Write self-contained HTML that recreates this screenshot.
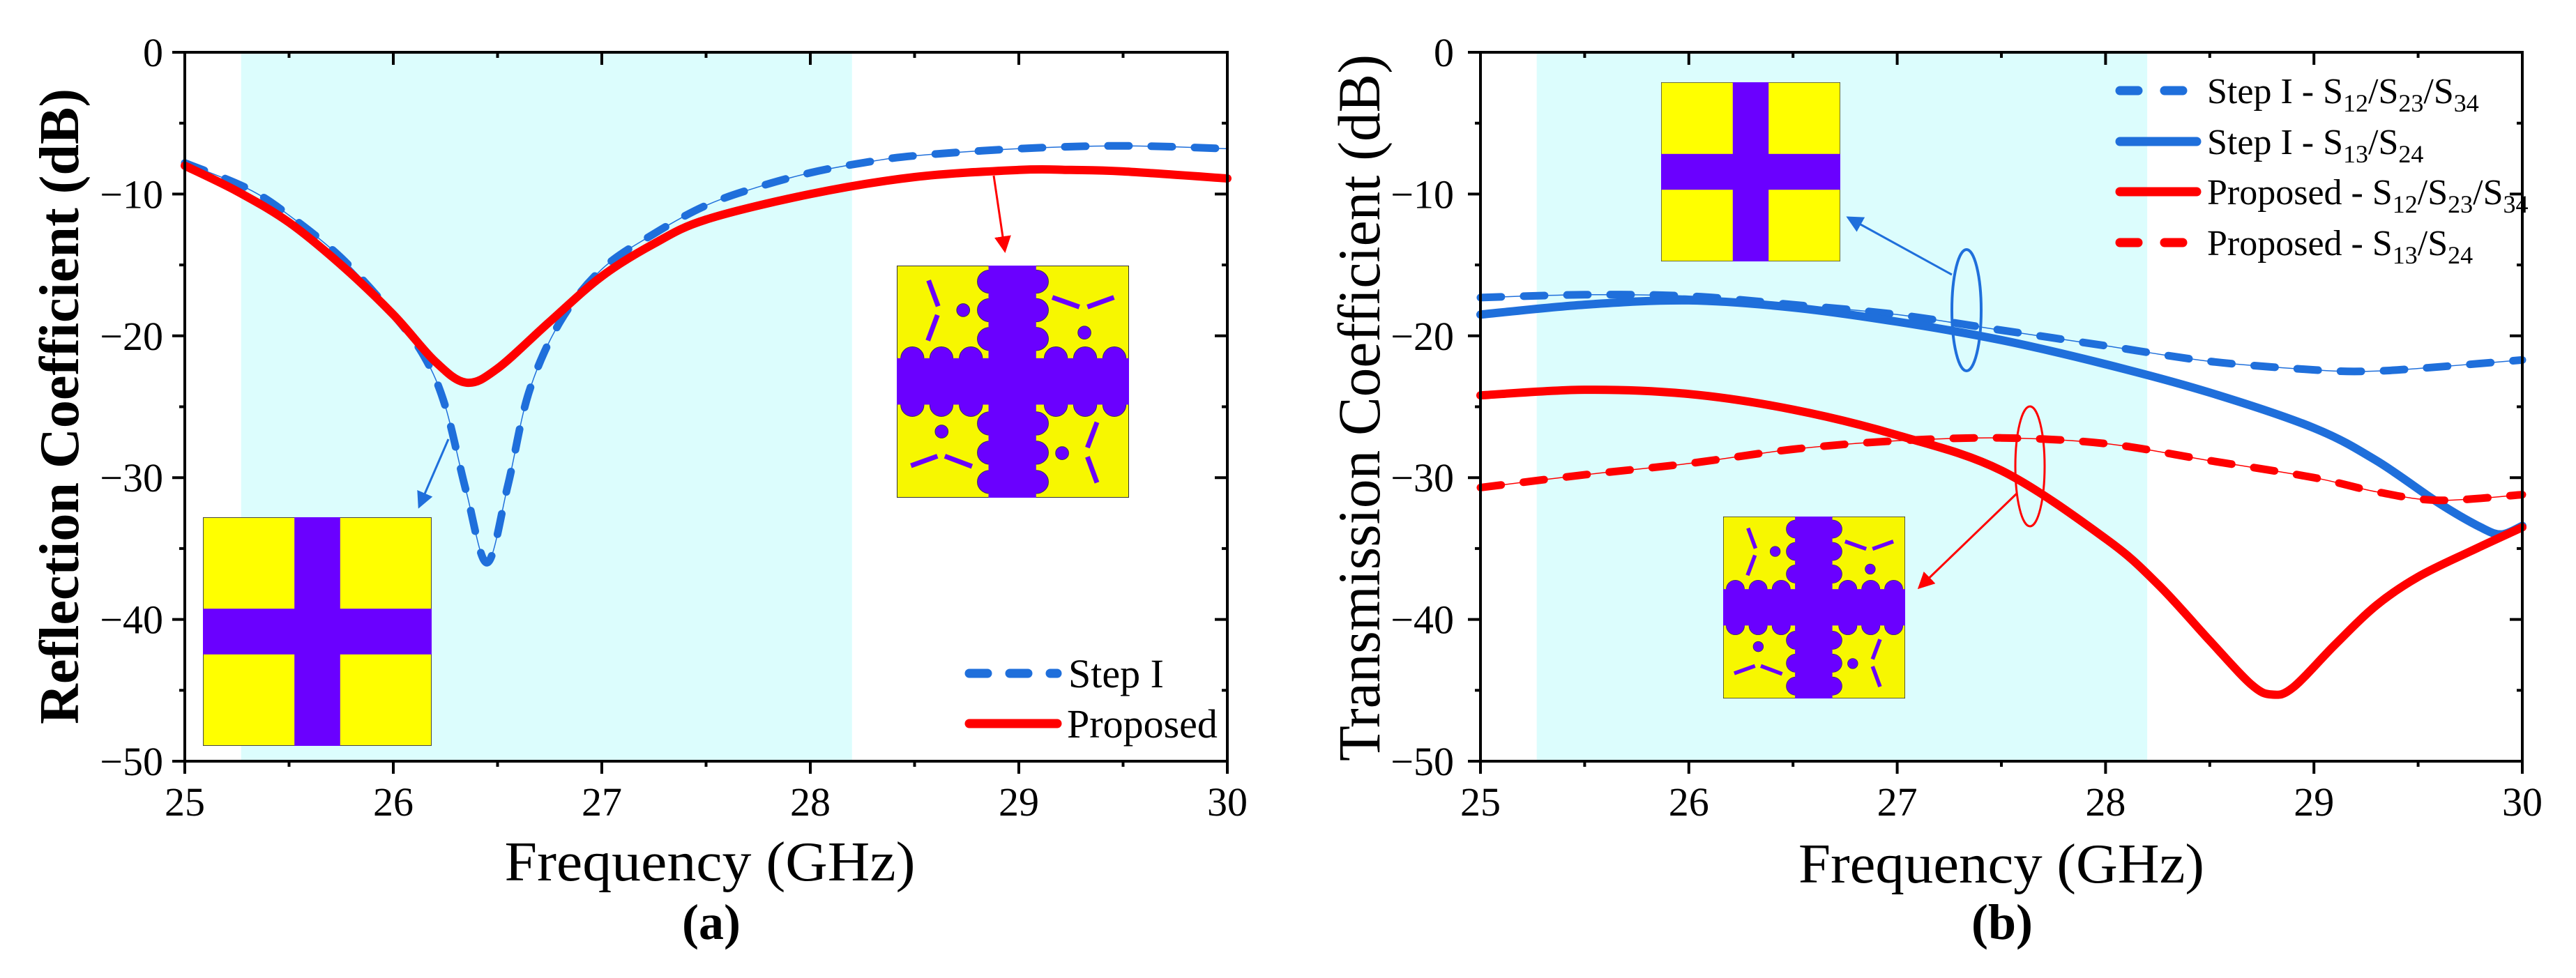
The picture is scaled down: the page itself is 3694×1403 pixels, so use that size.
<!DOCTYPE html>
<html><head><meta charset="utf-8"><style>
html,body{margin:0;padding:0;background:#fff;}
svg{display:block;font-family:"Liberation Serif",serif;}
</style></head><body>
<svg id="fig" width="3694" height="1403" viewBox="0 0 3694 1403" xmlns="http://www.w3.org/2000/svg">
<defs>
<symbol id="inset-step1" viewBox="0 0 100 100" preserveAspectRatio="none">
<rect x="0" y="0" width="100" height="100" fill="#ffff00" stroke="#444" stroke-width="0.6"/>
<rect x="40" y="0" width="20" height="100" fill="#6a00ff"/>
<rect x="0" y="40" width="100" height="20" fill="#6a00ff"/>
</symbol>
<symbol id="inset-proposed" viewBox="0 0 100 100" preserveAspectRatio="none">
<rect x="0" y="0" width="100" height="100" fill="#f7f700" stroke="#333" stroke-width="0.6"/>
<g fill="#6a00ff" stroke="#3a2a60" stroke-width="0.3">
<ellipse cx="40" cy="6.9" rx="5.3" ry="5"/><ellipse cx="60" cy="6.9" rx="5.3" ry="5"/>
<ellipse cx="40" cy="19.2" rx="5.3" ry="5"/><ellipse cx="60" cy="19.2" rx="5.3" ry="5"/>
<ellipse cx="40" cy="31.6" rx="5.3" ry="5"/><ellipse cx="60" cy="31.6" rx="5.3" ry="5"/>
<ellipse cx="40" cy="68" rx="5.3" ry="5"/><ellipse cx="60" cy="68" rx="5.3" ry="5"/>
<ellipse cx="40" cy="80.6" rx="5.3" ry="5"/><ellipse cx="60" cy="80.6" rx="5.3" ry="5"/>
<ellipse cx="40" cy="93.2" rx="5.3" ry="5"/><ellipse cx="60" cy="93.2" rx="5.3" ry="5"/>
<ellipse cx="6.7" cy="40" rx="5" ry="5"/><ellipse cx="19.2" cy="40" rx="5" ry="5"/><ellipse cx="31.9" cy="40" rx="5" ry="5"/>
<ellipse cx="68.5" cy="40" rx="5" ry="5"/><ellipse cx="81.1" cy="40" rx="5" ry="5"/><ellipse cx="93.7" cy="40" rx="5" ry="5"/>
<ellipse cx="6.7" cy="60" rx="5" ry="5"/><ellipse cx="19.2" cy="60" rx="5" ry="5"/><ellipse cx="31.9" cy="60" rx="5" ry="5"/>
<ellipse cx="68.5" cy="60" rx="5" ry="5"/><ellipse cx="81.1" cy="60" rx="5" ry="5"/><ellipse cx="93.7" cy="60" rx="5" ry="5"/>
<circle cx="28.6" cy="19.2" r="2.8"/><circle cx="80.8" cy="28.9" r="2.8"/>
<circle cx="19.3" cy="71.5" r="2.8"/><circle cx="71.2" cy="80.8" r="2.8"/>
</g>
<rect x="39.5" y="0" width="20.5" height="100" fill="#6a00ff"/>
<rect x="0" y="39.9" width="100" height="20" fill="#6a00ff"/>
<g stroke="#6a00ff" stroke-width="2.1">
<line x1="13.7" y1="6.4" x2="17.8" y2="17.5"/><line x1="17.5" y1="21.3" x2="13.4" y2="32.3"/>
<line x1="67" y1="13.7" x2="78.6" y2="17.8"/><line x1="82.1" y1="17.8" x2="93.5" y2="13.7"/>
<line x1="6.1" y1="86.2" x2="17.5" y2="82.1"/><line x1="20.7" y1="82.1" x2="32.4" y2="86.5"/>
<line x1="86.2" y1="67.5" x2="82.1" y2="78.4"/><line x1="82.1" y1="82.4" x2="86.2" y2="93.5"/>
</g>
</symbol>
<marker id="arrBlue" markerWidth="8" markerHeight="8" refX="7" refY="4" orient="auto" markerUnits="strokeWidth"><path d="M0,0 L8,4 L0,8 z" fill="#1f6fdb"/></marker>
<marker id="arrRed" markerWidth="8" markerHeight="8" refX="7" refY="4" orient="auto" markerUnits="strokeWidth"><path d="M0,0 L8,4 L0,8 z" fill="#ff0000"/></marker>
</defs>
<g id="panelA"></g>
<g id="panelB"></g>
</svg>
<script>
// ---- Panel (a) data ----
const aFreqStep = [25, 25.3, 25.5, 25.75, 26, 26.15, 26.25, 26.35, 26.45, 26.55, 26.65, 26.8, 27, 27.25, 27.5, 27.75, 28, 28.25, 28.5, 29, 29.5, 30];
const aStepI   = [-7.8, -9.6, -11.5, -14.5, -18.5, -21.5, -25, -31, -36, -30.5, -24, -19, -15.3, -12.8, -10.8, -9.5, -8.5, -7.8, -7.3, -6.8, -6.6, -6.8];
const aFreqProp = [25, 25.25, 25.5, 25.75, 26, 26.2, 26.35, 26.5, 26.75, 27, 27.25, 27.5, 28, 28.5, 29, 29.25, 29.5, 30];
const aProposed = [-8, -9.8, -12, -15, -18.5, -21.8, -23.3, -22.3, -19, -15.8, -13.5, -11.8, -10, -8.8, -8.3, -8.3, -8.4, -8.9];
// ---- Panel (b) data ----
const bFreqS12 = [25, 25.5, 26, 26.5, 27, 27.5, 28, 28.5, 29, 29.25, 29.5, 30];
const bStepS12 = [-17.3, -17.1, -17.2, -17.8, -18.5, -19.6, -20.7, -21.8, -22.4, -22.5, -22.3, -21.7];
const bFreqS13 = [25, 25.5, 26, 26.5, 27, 27.5, 28, 28.5, 29, 29.3, 29.6, 29.8, 29.9, 30];
const bStepS13 = [-18.5, -17.8, -17.5, -18, -19, -20.3, -22, -24, -26.5, -28.8, -31.8, -33.5, -34, -33.4];
const bFreqPS12 = [25, 25.5, 26, 26.5, 27, 27.5, 28, 28.25, 28.5, 28.7, 28.8, 28.9, 29.1, 29.3, 29.5, 29.75, 30];
const bPropS12 = [-24.2, -23.8, -24.1, -25.2, -27, -29.5, -34.3, -37.5, -41.5, -44.6, -45.3, -44.8, -41.8, -39, -37, -35.2, -33.5];
const bFreqPS13 = [25, 25.5, 26, 26.5, 27, 27.5, 28, 28.5, 29, 29.3, 29.6, 30];
const bPropS13 = [-30.7, -29.8, -29, -28, -27.4, -27.2, -27.6, -28.8, -30, -31, -31.6, -31.2];
const xTicks = [25, 26, 27, 28, 29, 30];
const yTicks = [0, -10, -20, -30, -40, -50];
const yTickLabels = ["0", "\u221210", "\u221220", "\u221230", "\u221240", "\u221250"];
const bandStart = 25.27, bandEnd = 28.2;

const NS = "http://www.w3.org/2000/svg";
function mk(tag, attrs, parent) {
  const e = document.createElementNS(NS, tag);
  for (const k in attrs) e.setAttribute(k, attrs[k]);
  parent.appendChild(e);
  return e;
}
function makeAxes(L, R, T, B) {
  const sx = f => L + (f - 25) / 5 * (R - L);
  const sy = v => T + (0 - v) / 50 * (B - T);
  return {sx, sy};
}
function smoothPath(xs, ys, ax) {
  const p = xs.map((x, i) => [ax.sx(x), ax.sy(ys[i])]);
  let d = "M" + p[0][0].toFixed(1) + "," + p[0][1].toFixed(1);
  for (let i = 0; i < p.length - 1; i++) {
    const p0 = p[Math.max(0, i - 1)], p1 = p[i], p2 = p[i + 1], p3 = p[Math.min(p.length - 1, i + 2)];
    const c1 = [p1[0] + (p2[0] - p0[0]) / 6, p1[1] + (p2[1] - p0[1]) / 6];
    const c2 = [p2[0] - (p3[0] - p1[0]) / 6, p2[1] - (p3[1] - p1[1]) / 6];
    d += " C" + c1[0].toFixed(1) + "," + c1[1].toFixed(1) + " " + c2[0].toFixed(1) + "," + c2[1].toFixed(1) + " " + p2[0].toFixed(1) + "," + p2[1].toFixed(1);
  }
  return d;
}
function drawFrame(g, ax, L, R, T, B) {
  const band = mk("rect", {x: ax.sx(bandStart), y: T, width: ax.sx(bandEnd) - ax.sx(bandStart), height: B - T, fill: "#dcfdfd"}, g);
  
  
}
function drawAxes(g, ax, L, R, T, B, tickRight) {
  const axg = mk("g", {stroke: "#000", "stroke-width": 4, fill: "none"}, g);
  
  
  mk("rect", {x: L, y: T, width: R - L, height: B - T}, axg);
  for (let f = 25; f <= 30.001; f += 0.5) {
    const major = Math.abs(f - Math.round(f)) < 1e-6;
    const x = ax.sx(f);
    mk("line", {x1: x, y1: B, x2: x, y2: B + (major ? 18 : 8)}, axg);
    mk("line", {x1: x, y1: T, x2: x, y2: T + (major ? 18 : 8)}, axg);
  }
  for (let v = 0; v >= -50; v -= 5) {
    const major = v % 10 === 0;
    const y = ax.sy(v);
    mk("line", {x1: L, y1: y, x2: L - (major ? 18 : 8), y2: y}, axg);
    mk("line", {x1: R, y1: y, x2: R - (major ? 18 : 8), y2: y}, axg);
  }
  xTicks.forEach(f => {
    const t = mk("text", {x: ax.sx(f), y: B + 78, "text-anchor": "middle", "font-size": 58, fill: "#000"}, g);
    t.textContent = f;
    
    
  });
  yTicks.forEach((v, i) => {
    const t = mk("text", {x: tickRight, y: ax.sy(v) + 20, "text-anchor": "end", "font-size": 58, fill: "#000"}, g);
    t.textContent = yTickLabels[i];
    
    
  });
}
function series(g, xs, ys, ax, color, dashed, name, width) {
  if (dashed) {
    const thin = mk("path", {d: smoothPath(xs, ys, ax), fill: "none", stroke: color, "stroke-width": 1.5}, g);
    
    
  }
  const p = mk("path", {d: smoothPath(xs, ys, ax), fill: "none", stroke: color, "stroke-width": width, "stroke-linecap": "round", "stroke-linejoin": "round"}, g);
  if (dashed) p.setAttribute("stroke-dasharray", "30 32");
  
  
}
const BLUE = "#1f6fdb", RED = "#ff0000";

// ---------- Panel A ----------
(function () {
  const g = document.getElementById("panelA");
  const L = 265, R = 1760, T = 75, B = 1092;
  const ax = makeAxes(L, R, T, B);
  drawFrame(g, ax, L, R, T, B);
  series(g, aFreqStep, aStepI, ax, BLUE, true, "step-i-line", 11);
  series(g, aFreqProp, aProposed, ax, RED, false, "proposed-line", 12);
  const i1 = mk("use", {href: "#inset-step1", x: 291, y: 742, width: 328, height: 328}, g);
  
  
  const i2 = mk("use", {href: "#inset-proposed", x: 1286, y: 381, width: 333, height: 333}, g);
  
  
  const a1 = mk("line", {x1: 643, y1: 630, x2: 601, y2: 727, stroke: BLUE, "stroke-width": 3, "marker-end": "url(#arrBlue)"}, g);
  
  
  const a2 = mk("line", {x1: 1425, y1: 252, x2: 1441, y2: 360, stroke: RED, "stroke-width": 3, "marker-end": "url(#arrRed)"}, g);
  
  
  drawAxes(g, ax, L, R, T, B, 234);
  const lg = mk("g", {}, g);
  
  
  mk("line", {x1: 1390, y1: 966, x2: 1516, y2: 966, stroke: BLUE, "stroke-width": 13, "stroke-linecap": "round", "stroke-dasharray": "26 32"}, lg);
  mk("line", {x1: 1390, y1: 1038, x2: 1516, y2: 1038, stroke: RED, "stroke-width": 13, "stroke-linecap": "round"}, lg);
  const t1 = mk("text", {x: 1532, y: 986, "font-size": 58}, lg); t1.textContent = "Step I";
  
  
  const t2 = mk("text", {x: 1530, y: 1058, "font-size": 58}, lg); t2.textContent = "Proposed";
  
  
  const xt = mk("text", {x: 1018, y: 1263, "text-anchor": "middle", "font-size": 80, textLength: 589, lengthAdjust: "spacingAndGlyphs"}, g);
  xt.textContent = "Frequency (GHz)";
  
  
  const yt = mk("text", {x: 0, y: 0, "text-anchor": "middle", "font-size": 80, "font-weight": "bold", textLength: 912, lengthAdjust: "spacingAndGlyphs", transform: "translate(112,583) rotate(-90)"}, g);
  yt.textContent = "Reflection Coefficient (dB)";
  
  
  const cap = mk("text", {x: 1020, y: 1347, "text-anchor": "middle", "font-size": 72, "font-weight": "bold"}, g);
  cap.textContent = "(a)";
  
  
})();

// ---------- Panel B ----------
(function () {
  const g = document.getElementById("panelB");
  const L = 2123, R = 3617, T = 75, B = 1092;
  const ax = makeAxes(L, R, T, B);
  drawFrame(g, ax, L, R, T, B);
  series(g, bFreqS12, bStepS12, ax, BLUE, true, "step-i-s12-line", 11);
  series(g, bFreqS13, bStepS13, ax, BLUE, false, "step-i-s13-line", 12);
  series(g, bFreqPS12, bPropS12, ax, RED, false, "proposed-s12-line", 12);
  series(g, bFreqPS13, bPropS13, ax, RED, true, "proposed-s13-line", 11);
  const i1 = mk("use", {href: "#inset-step1", x: 2382, y: 118, width: 257, height: 257}, g);
  
  
  const i2 = mk("use", {href: "#inset-proposed", x: 2471, y: 741, width: 261, height: 261}, g);
  
  
  const e1 = mk("ellipse", {cx: 2820, cy: 445, rx: 21, ry: 87, fill: "none", stroke: BLUE, "stroke-width": 4}, g);
  
  
  const a1 = mk("line", {x1: 2799, y1: 394, x2: 2650, y2: 312, stroke: BLUE, "stroke-width": 3, "marker-end": "url(#arrBlue)"}, g);
  
  
  const e2 = mk("ellipse", {cx: 2911, cy: 669, rx: 21, ry: 86, fill: "none", stroke: RED, "stroke-width": 3}, g);
  
  
  const a2 = mk("line", {x1: 2892, y1: 708, x2: 2752, y2: 843, stroke: RED, "stroke-width": 3, "marker-end": "url(#arrRed)"}, g);
  
  
  drawAxes(g, ax, L, R, T, B, 2085);
  const lg = mk("g", {}, g);
  
  
  mk("line", {x1: 3040, y1: 130, x2: 3150, y2: 130, stroke: BLUE, "stroke-width": 13, "stroke-linecap": "round", "stroke-dasharray": "26 38"}, lg);
  mk("line", {x1: 3040, y1: 203, x2: 3150, y2: 203, stroke: BLUE, "stroke-width": 13, "stroke-linecap": "round"}, lg);
  mk("line", {x1: 3040, y1: 275, x2: 3150, y2: 275, stroke: RED, "stroke-width": 13, "stroke-linecap": "round"}, lg);
  mk("line", {x1: 3040, y1: 348, x2: 3150, y2: 348, stroke: RED, "stroke-width": 13, "stroke-linecap": "round", "stroke-dasharray": "26 38"}, lg);
  const entries = [
    ["Step I - S", [["12", "/S"], ["23", "/S"], ["34", ""]], 148, "legend-entry-step-i-s12"],
    ["Step I - S", [["13", "/S"], ["24", ""]], 221, "legend-entry-step-i-s13"],
    ["Proposed - S", [["12", "/S"], ["23", "/S"], ["34", ""]], 293, "legend-entry-proposed-s12"],
    ["Proposed - S", [["13", "/S"], ["24", ""]], 366, "legend-entry-proposed-s13"]
  ];
  entries.forEach(en => {
    const t = mk("text", {x: 3165, y: en[2], "font-size": 52}, lg);
    
    
    const s0 = mk("tspan", {}, t); s0.textContent = en[0];
    en[1].forEach(pr => {
      const sb = mk("tspan", {"font-size": 36, dy: 12}, t); sb.textContent = pr[0];
      if (pr[1]) { const s = mk("tspan", {dy: -12}, t); s.textContent = pr[1]; }
    });
  });
  const xt = mk("text", {x: 2870, y: 1266, "text-anchor": "middle", "font-size": 80, textLength: 582, lengthAdjust: "spacingAndGlyphs"}, g);
  xt.textContent = "Frequency (GHz)";
  
  
  const yt = mk("text", {x: 0, y: 0, "text-anchor": "middle", "font-size": 86, textLength: 1014, lengthAdjust: "spacingAndGlyphs", transform: "translate(1978,585) rotate(-90)"}, g);
  yt.textContent = "Transmission Coefficient (dB)";
  
  
  const cap = mk("text", {x: 2871, y: 1347, "text-anchor": "middle", "font-size": 72, "font-weight": "bold"}, g);
  cap.textContent = "(b)";
  
  
})();
</script>
</body></html>
